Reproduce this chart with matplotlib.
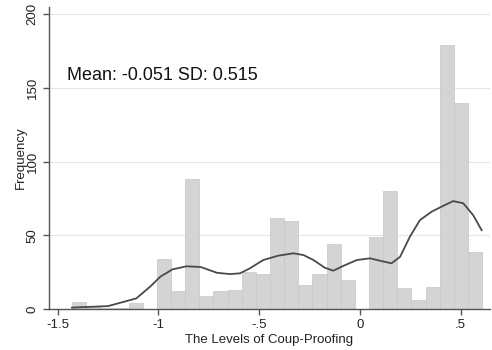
import numpy as np
import matplotlib
matplotlib.use('Agg')
import matplotlib.pyplot as plt

plt.rcParams['font.family'] = ['Liberation Sans', 'DejaVu Sans']

# histogram: 29 bins starting at -1.429, width ~0.0702
bin_start = -1.429
bin_width = 0.0702
counts = [5, 2, 1, 1, 4, 0, 34, 12, 88, 9, 12, 13, 25, 24, 62,
          60, 16, 24, 44, 20, 0, 49, 80, 14, 6, 15, 179, 140, 39]

# kernel density line (frequency scale)
curve_x = [-1.43, -1.25, -1.11, -1.04, -0.99, -0.93, -0.86, -0.79, -0.71,
           -0.645, -0.596, -0.546, -0.48, -0.405, -0.33, -0.28, -0.23,
           -0.174, -0.132, -0.083, -0.016, 0.05, 0.105, 0.157, 0.2, 0.248,
           0.298, 0.356, 0.405, 0.463, 0.513, 0.562, 0.605]
curve_y = [1, 2, 7.2, 15.3, 22, 26.9, 29, 28.5, 24.6, 23.7, 24.2, 27.6,
           33.2, 36.2, 37.8, 36.6, 33.2, 28, 26, 29.2, 33.2, 34.4, 32.6,
           31, 35.5, 49, 60.3, 66, 69.4, 73.2, 71.7, 63.7, 53.3]

x_ticks = [-1.5, -1, -0.5, 0, 0.5]
x_ticklabels = ['-1.5', '-1', '-.5', '0', '.5']
y_ticks = [0, 50, 100, 150, 200]

fig = plt.figure(figsize=(4.92, 3.5), dpi=100)
ax = fig.add_axes([0.0996, 0.117, 0.896, 0.864])

edges = bin_start + bin_width * np.arange(len(counts))
ax.bar(edges, counts, width=bin_width, align='edge',
       color='#d4d4d4', edgecolor='#c6c6c6', linewidth=0.5, zorder=2)
ax.plot(curve_x, curve_y, color='#4a4a4a', linewidth=1.3, zorder=3,
        solid_joinstyle='round', solid_capstyle='round')

ax.set_xlim(-1.543, 0.645)
ax.set_ylim(0, 205)
ax.set_xticks(x_ticks)
ax.set_xticklabels(x_ticklabels)
ax.set_yticks(y_ticks)
ax.set_yticklabels([str(v) for v in y_ticks], rotation=90, va='center')

ax.yaxis.grid(True, color='#e6e6e6', linewidth=0.8, zorder=0)
ax.set_axisbelow(True)
for s in ['top', 'right']:
    ax.spines[s].set_visible(False)
for s in ['left', 'bottom']:
    ax.spines[s].set_color('#555555')
    ax.spines[s].set_linewidth(1.0)
ax.tick_params(axis='both', colors='#555555', labelcolor='#222222',
               labelsize=9.5, length=4, width=1, direction='out')

ax.set_xlabel('The Levels of Coup-Proofing', fontsize=9.5, color='#222222', labelpad=2)
ax.set_ylabel('Frequency', fontsize=9.5, color='#222222', labelpad=0)

ax.text(-1.454, 158, 'Mean: -0.051 SD: 0.515', fontsize=13, color='#111111',
        ha='left', va='center')

fig.savefig('out.png', dpi=100)
